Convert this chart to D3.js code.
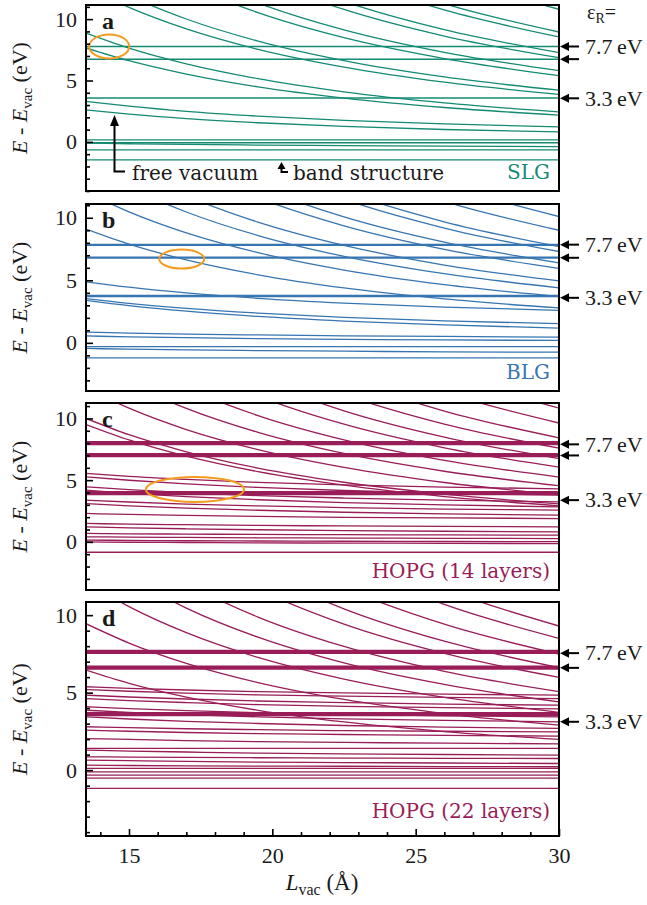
<!DOCTYPE html>
<html><head><meta charset="utf-8">
<script src="https://d3js.org/d3.v7.min.js"></script>
<style>
html,body{margin:0;padding:0;background:#fff;}
svg{display:block;font-family:"Liberation Serif","DejaVu Serif",serif;}
</style></head><body>
<svg id="chart" width="647" height="905"></svg>
<script>
// ---------- data ----------
const lVac = [13.5, 15, 17, 19.5, 22.5, 26, 30];   // sample points along L_vac (Å)
const xTicks = [15, 20, 25, 30];
const yTicks = [0, 5, 10];

// a: SLG
const slgFlat = [-1.47, -0.65, -0.07, 0.16];
const slgBands = [3.58, 6.74, 7.77];
const slgCurves = [
  [-0.10, -0.15, -0.21, -0.26, -0.31, -0.35, -0.38],
  [2.60, 2.26, 1.90, 1.56, 1.26, 1.01, 0.81],
  [3.30, 2.91, 2.49, 2.10, 1.75, 1.46, 1.22],
  [7.65, 6.61, 5.52, 4.48, 3.57, 2.80, 2.18],
  [8.86, 7.64, 6.36, 5.15, 4.08, 3.18, 2.45],
  [12.61, 10.95, 9.20, 7.54, 6.09, 4.86, 3.87],
  [13.71, 11.91, 10.01, 8.21, 6.62, 5.29, 4.21],
  [17.59, 15.27, 12.83, 10.53, 8.49, 6.79, 5.40],
  [18.89, 16.41, 13.78, 11.31, 9.12, 7.29, 5.80],
  [22.35, 19.40, 16.30, 13.37, 10.79, 8.62, 6.86],
  [23.68, 20.56, 17.28, 14.17, 11.44, 9.14, 7.27],
  [27.85, 24.18, 20.32, 16.67, 13.45, 10.75, 8.55],
  [29.16, 25.32, 21.27, 17.45, 14.08, 11.25, 8.95],
  [35.18, 30.55, 25.67, 21.05, 16.99, 13.58, 10.80]
];
const slgArrowE = [7.77, 6.74, 3.55];
const slgMark = [14.31, 7.77];

// b: BLG
const blgFlat = [-1.20, -0.30];
const blgBands = [3.75, 6.81, 7.83];
const blgCurves = [
  [0.86, 0.78, 0.70, 0.63, 0.56, 0.51, 0.46],
  [0.55, 0.48, 0.41, 0.34, 0.28, 0.23, 0.19],
  [-0.45, -0.51, -0.57, -0.62, -0.67, -0.72, -0.75],
  [3.40, 2.98, 2.53, 2.11, 1.74, 1.43, 1.18],
  [3.54, 3.16, 2.76, 2.38, 2.04, 1.76, 1.53],
  [4.88, 4.45, 3.99, 3.56, 3.18, 2.86, 2.60],
  [9.09, 7.89, 6.63, 5.44, 4.39, 3.51, 2.79],
  [12.05, 10.47, 8.79, 7.21, 5.82, 4.65, 3.70],
  [14.33, 12.45, 10.46, 8.58, 6.92, 5.53, 4.40],
  [16.13, 14.00, 11.76, 9.65, 7.79, 6.22, 4.95],
  [19.38, 16.83, 14.14, 11.60, 9.36, 7.48, 5.95],
  [20.85, 18.10, 15.21, 12.48, 10.07, 8.05, 6.40],
  [23.78, 20.65, 17.35, 14.23, 11.48, 9.18, 7.30],
  [25.08, 21.78, 18.30, 15.01, 12.11, 9.68, 7.70],
  [29.32, 25.46, 21.39, 17.55, 14.16, 11.31, 9.00],
  [32.90, 28.57, 24.00, 19.69, 15.89, 12.70, 10.10]
];
const blgArrowE = [7.85, 6.80, 3.60];
const blgMark = [16.84, 6.70];

// c: HOPG 14 layers
const hopg14Flat = [-0.84];
const hopg14Bands = [3.95, 7.03, 8.00];
const hopg14Curves = [
  [5.54, 5.30, 5.06, 4.82, 4.61, 4.44, 4.30],
  [5.27, 4.99, 4.69, 4.41, 4.16, 3.95, 3.78],
  [4.46, 4.23, 3.98, 3.75, 3.55, 3.38, 3.24],
  [4.19, 3.93, 3.66, 3.41, 3.18, 2.99, 2.84],
  [3.38, 3.23, 3.06, 2.91, 2.78, 2.66, 2.57],
  [3.10, 2.92, 2.73, 2.56, 2.40, 2.27, 2.16],
  [2.30, 2.22, 2.14, 2.06, 1.99, 1.94, 1.89],
  [1.49, 1.44, 1.39, 1.33, 1.29, 1.25, 1.22],
  [1.22, 1.14, 1.06, 0.98, 0.91, 0.86, 0.81],
  [0.68, 0.65, 0.63, 0.60, 0.58, 0.56, 0.54],
  [0.41, 0.38, 0.36, 0.33, 0.31, 0.29, 0.27],
  [0.14, 0.12, 0.09, 0.07, 0.05, 0.03, 0.02],
  [0.00, -0.03, -0.05, -0.08, -0.10, -0.12, -0.14],
  [9.51, 8.26, 6.94, 5.69, 4.59, 3.67, 2.92],
  [10.00, 8.68, 7.30, 5.98, 4.83, 3.86, 3.07],
  [12.48, 10.83, 9.10, 7.47, 6.03, 4.81, 3.83],
  [14.82, 12.87, 10.81, 8.87, 7.16, 5.72, 4.55],
  [17.10, 14.85, 12.48, 10.23, 8.26, 6.60, 5.25],
  [19.74, 17.14, 14.40, 11.81, 9.53, 7.62, 6.06],
  [21.99, 19.09, 16.04, 13.16, 10.62, 8.49, 6.75],
  [24.72, 21.47, 18.04, 14.80, 11.94, 9.54, 7.59],
  [27.46, 23.84, 20.04, 16.43, 13.26, 10.60, 8.43],
  [31.37, 27.24, 22.89, 18.77, 15.15, 12.11, 9.63],
  [35.31, 30.66, 25.76, 21.13, 17.05, 13.63, 10.84]
];
const hopg14ArrowE = [7.90, 7.00, 3.38];
const hopg14Mark = [17.3, 4.25];

// d: HOPG 22 layers
const hopg22Flat = [1.40, 0.11, -0.11, -0.32, -0.51, -1.18];
const hopg22Bands = [3.61, 6.62, 7.63];
const hopg22Curves = [
  [5.38, 5.28, 5.17, 5.07, 4.98, 4.90, 4.84],
  [5.20, 5.09, 4.97, 4.86, 4.77, 4.69, 4.62],
  [4.84, 4.72, 4.59, 4.46, 4.36, 4.26, 4.19],
  [4.62, 4.49, 4.36, 4.23, 4.12, 4.03, 3.95],
  [4.09, 3.97, 3.84, 3.71, 3.61, 3.51, 3.44],
  [3.87, 3.73, 3.58, 3.44, 3.31, 3.21, 3.12],
  [3.44, 3.30, 3.15, 3.01, 2.88, 2.78, 2.69],
  [2.80, 2.74, 2.67, 2.61, 2.55, 2.51, 2.47],
  [2.58, 2.51, 2.43, 2.36, 2.30, 2.24, 2.20],
  [2.04, 1.98, 1.91, 1.84, 1.79, 1.74, 1.70],
  [1.29, 1.23, 1.17, 1.10, 1.05, 1.01, 0.97],
  [0.86, 0.84, 0.82, 0.80, 0.78, 0.76, 0.75],
  [0.65, 0.61, 0.56, 0.52, 0.49, 0.46, 0.43],
  [0.32, 0.30, 0.28, 0.26, 0.25, 0.23, 0.22],
  [6.45, 5.60, 4.71, 3.86, 3.11, 2.49, 1.98],
  [9.45, 8.20, 6.89, 5.65, 4.56, 3.65, 2.90],
  [12.15, 10.55, 8.87, 7.27, 5.87, 4.69, 3.73],
  [14.33, 12.45, 10.46, 8.58, 6.92, 5.53, 4.40],
  [16.52, 14.34, 12.05, 9.88, 7.98, 6.37, 5.07],
  [19.51, 16.94, 14.24, 11.68, 9.42, 7.53, 5.99],
  [21.57, 18.72, 15.73, 12.91, 10.41, 8.32, 6.62],
  [24.40, 21.19, 17.80, 14.60, 11.78, 9.42, 7.49],
  [27.69, 24.04, 20.20, 16.57, 13.37, 10.69, 8.50],
  [30.30, 26.31, 22.10, 18.13, 14.63, 11.69, 9.30]
];
const hopg22ArrowE = [7.55, 6.60, 3.12];

const arrowText = ["7.7\u2009eV", "", "3.3\u2009eV"];
const panelNames = ["SLG", "BLG", "HOPG (14 layers)", "HOPG (22 layers)"];
const panelLetters = ["a", "b", "c", "d"];

// ---------- layout ----------
const X0 = 86, X1 = 559;
const LABEL_FONT = "DejaVu Serif";
const layout = [
  {top: 5,   bottom: 191, dom: [-4.0, 11.15], color: "#148a73", bandW: 1.5, mark: {r: [20, 12]}},
  {top: 204, bottom: 391, dom: [-3.85, 11.1], color: "#3775b1", bandW: 2.4, mark: {r: [22.5, 9.5]}},
  {top: 403, bottom: 590, dom: [-3.9, 11.25], color: "#991d58", bandW: 4.2, mark: {r: [49, 12.5]}},
  {top: 602, bottom: 836, dom: [-4.25, 10.85], color: "#991d58", bandW: 4.2, mark: null}
];
const sets = [
  {flat: slgFlat, bands: slgBands, curves: slgCurves, arrows: slgArrowE, mark: slgMark},
  {flat: blgFlat, bands: blgBands, curves: blgCurves, arrows: blgArrowE, mark: blgMark},
  {flat: hopg14Flat, bands: hopg14Bands, curves: hopg14Curves, arrows: hopg14ArrowE, mark: hopg14Mark},
  {flat: hopg22Flat, bands: hopg22Bands, curves: hopg22Curves, arrows: hopg22ArrowE, mark: null}
];

const svg = d3.select("#chart");
const defs = svg.append("defs");
const x = d3.scaleLinear().domain([13.5, 30]).range([X0, X1]);
const TXT = "#1a1a1a";

layout.forEach((p, i) => {
  const s = sets[i];
  const y = d3.scaleLinear().domain(p.dom).range([p.bottom, p.top]);
  const g = svg.append("g");

  defs.append("clipPath").attr("id", "clip" + i)
    .append("rect").attr("x", X0).attr("y", p.top).attr("width", X1 - X0).attr("height", p.bottom - p.top);

  const lg = g.append("g").attr("clip-path", `url(#clip${i})`)
    .attr("fill", "none").attr("stroke", p.color);

  const line = d3.line().x(d => x(d[0])).y(d => y(d[1])).curve(d3.curveMonotoneX);
  const flatPts = v => [[13.5, v], [30, v]];

  s.flat.forEach(v => lg.append("path").attr("d", line(flatPts(v))).attr("stroke-width", 1.3));
  s.bands.forEach(v => lg.append("path").attr("d", line(flatPts(v))).attr("stroke-width", p.bandW));
  s.curves.forEach(c => lg.append("path").attr("d", line(lVac.map((L, k) => [L, c[k]]))).attr("stroke-width", 1.3));

  if (s.mark) {
    g.append("ellipse").attr("cx", x(s.mark[0])).attr("cy", y(s.mark[1]))
      .attr("rx", p.mark.r[0]).attr("ry", p.mark.r[1])
      .attr("fill", "none").attr("stroke", "#f39c1f").attr("stroke-width", 2);
  }

  // y axis ticks
  const minor = d3.range(Math.ceil(p.dom[0]), Math.floor(p.dom[1]) + 1).filter(v => v % 5 !== 0);
  const ya1 = g.append("g").attr("transform", `translate(${X0},0)`)
    .call(d3.axisLeft(y).tickValues(minor).tickSize(-4).tickFormat(""));
  const ya2 = g.append("g").attr("transform", `translate(${X0},0)`)
    .call(d3.axisLeft(y).tickValues(yTicks).tickSize(-7).tickPadding(9));
  [ya1, ya2].forEach(a => {
    a.select(".domain").remove();
    a.selectAll("line").attr("stroke", "#000").attr("stroke-width", 1.6);
    a.selectAll("text").attr("font-size", 22).attr("fill", TXT).attr("font-family", "Liberation Serif");
  });

  // x axis on bottom panel
  if (i === 3) {
    const xm = d3.range(14, 31).filter(v => v % 5 !== 0);
    const xa1 = g.append("g").attr("transform", `translate(0,${p.bottom})`)
      .call(d3.axisBottom(x).tickValues(xm).tickSize(-4).tickFormat(""));
    const xa2 = g.append("g").attr("transform", `translate(0,${p.bottom})`)
      .call(d3.axisBottom(x).tickValues(xTicks).tickSize(-7).tickPadding(11));
    [xa1, xa2].forEach(a => {
      a.select(".domain").remove();
      a.selectAll("line").attr("stroke", "#000").attr("stroke-width", 1.6);
      a.selectAll("text").attr("font-size", 22).attr("fill", TXT).attr("font-family", "Liberation Serif");
    });
  }

  // frame
  g.append("rect").attr("x", X0).attr("y", p.top).attr("width", X1 - X0).attr("height", p.bottom - p.top)
    .attr("fill", "none").attr("stroke", "#000").attr("stroke-width", 2);

  // panel letter
  g.append("text").attr("x", 102).attr("y", p.top + 24).attr("font-size", 24).attr("font-weight", "bold")
    .attr("fill", TXT).text(panelLetters[i]);

  // panel name
  g.append("text").attr("x", 550).attr("y", i === 3 ? p.bottom - 18 : p.bottom - 12)
    .attr("text-anchor", "end").attr("font-size", 20).attr("font-family", LABEL_FONT)
    .attr("fill", p.color).text(panelNames[i]);

  // y label
  const cy = (p.top + p.bottom) / 2;
  const yl = g.append("text").attr("transform", `translate(27,${cy}) rotate(-90)`)
    .attr("text-anchor", "middle").attr("font-size", 22).attr("fill", TXT);
  yl.append("tspan").attr("font-style", "italic").text("E");
  yl.append("tspan").text(" - ");
  yl.append("tspan").attr("font-style", "italic").text("E");
  yl.append("tspan").attr("font-size", 15).attr("dy", 5).text("vac");
  yl.append("tspan").attr("dy", -5).text(" (eV)");

  // right arrows
  s.arrows.forEach((e, k) => {
    const yy = y(e);
    g.append("line").attr("x1", 567).attr("x2", 579).attr("y1", yy).attr("y2", yy)
      .attr("stroke", "#000").attr("stroke-width", 2);
    g.append("path").attr("d", `M560,${yy} L569,${yy - 4.5} L569,${yy + 4.5} Z`).attr("fill", "#000");
    if (arrowText[k]) {
      g.append("text").attr("x", 585).attr("y", yy).attr("dy", "0.33em")
        .attr("font-size", 22).attr("fill", TXT).text(arrowText[k]);
    }
  });
});

// epsilon_R label
const eps = svg.append("text").attr("x", 587).attr("y", 19).attr("font-size", 20).attr("fill", TXT);
eps.append("tspan").text("\u03b5");
eps.append("tspan").attr("font-size", 14).attr("dy", 4).text("R");
eps.append("tspan").attr("dy", -4).text("=");

// x label
const xl = svg.append("text").attr("x", 322).attr("y", 890).attr("text-anchor", "middle")
  .attr("font-size", 23).attr("fill", TXT);
xl.append("tspan").attr("font-style", "italic").text("L");
xl.append("tspan").attr("font-size", 16).attr("dy", 5).text("vac");
xl.append("tspan").attr("dy", -5).text(" (\u00c5)");

// annotations in panel a
const ann = svg.append("g");
ann.append("path").attr("d", "M114.5,124 L114.5,171.5 L125,171.5").attr("fill", "none")
  .attr("stroke", "#000").attr("stroke-width", 2);
ann.append("path").attr("d", "M114.5,115 L110,126 L119,126 Z").attr("fill", "#000");
ann.append("text").attr("x", 132).attr("y", 180).attr("font-size", 20).attr("font-family", LABEL_FONT)
  .attr("fill", TXT).text("free vacuum");
ann.append("path").attr("d", "M281.5,167 L281.5,172 L288,172").attr("fill", "none")
  .attr("stroke", "#000").attr("stroke-width", 2);
ann.append("path").attr("d", "M281.5,162 L277.5,169 L285.5,169 Z").attr("fill", "#000");
ann.append("text").attr("x", 293).attr("y", 180).attr("font-size", 20).attr("font-family", LABEL_FONT)
  .attr("fill", TXT).text("band structure");
</script>
</body></html>
